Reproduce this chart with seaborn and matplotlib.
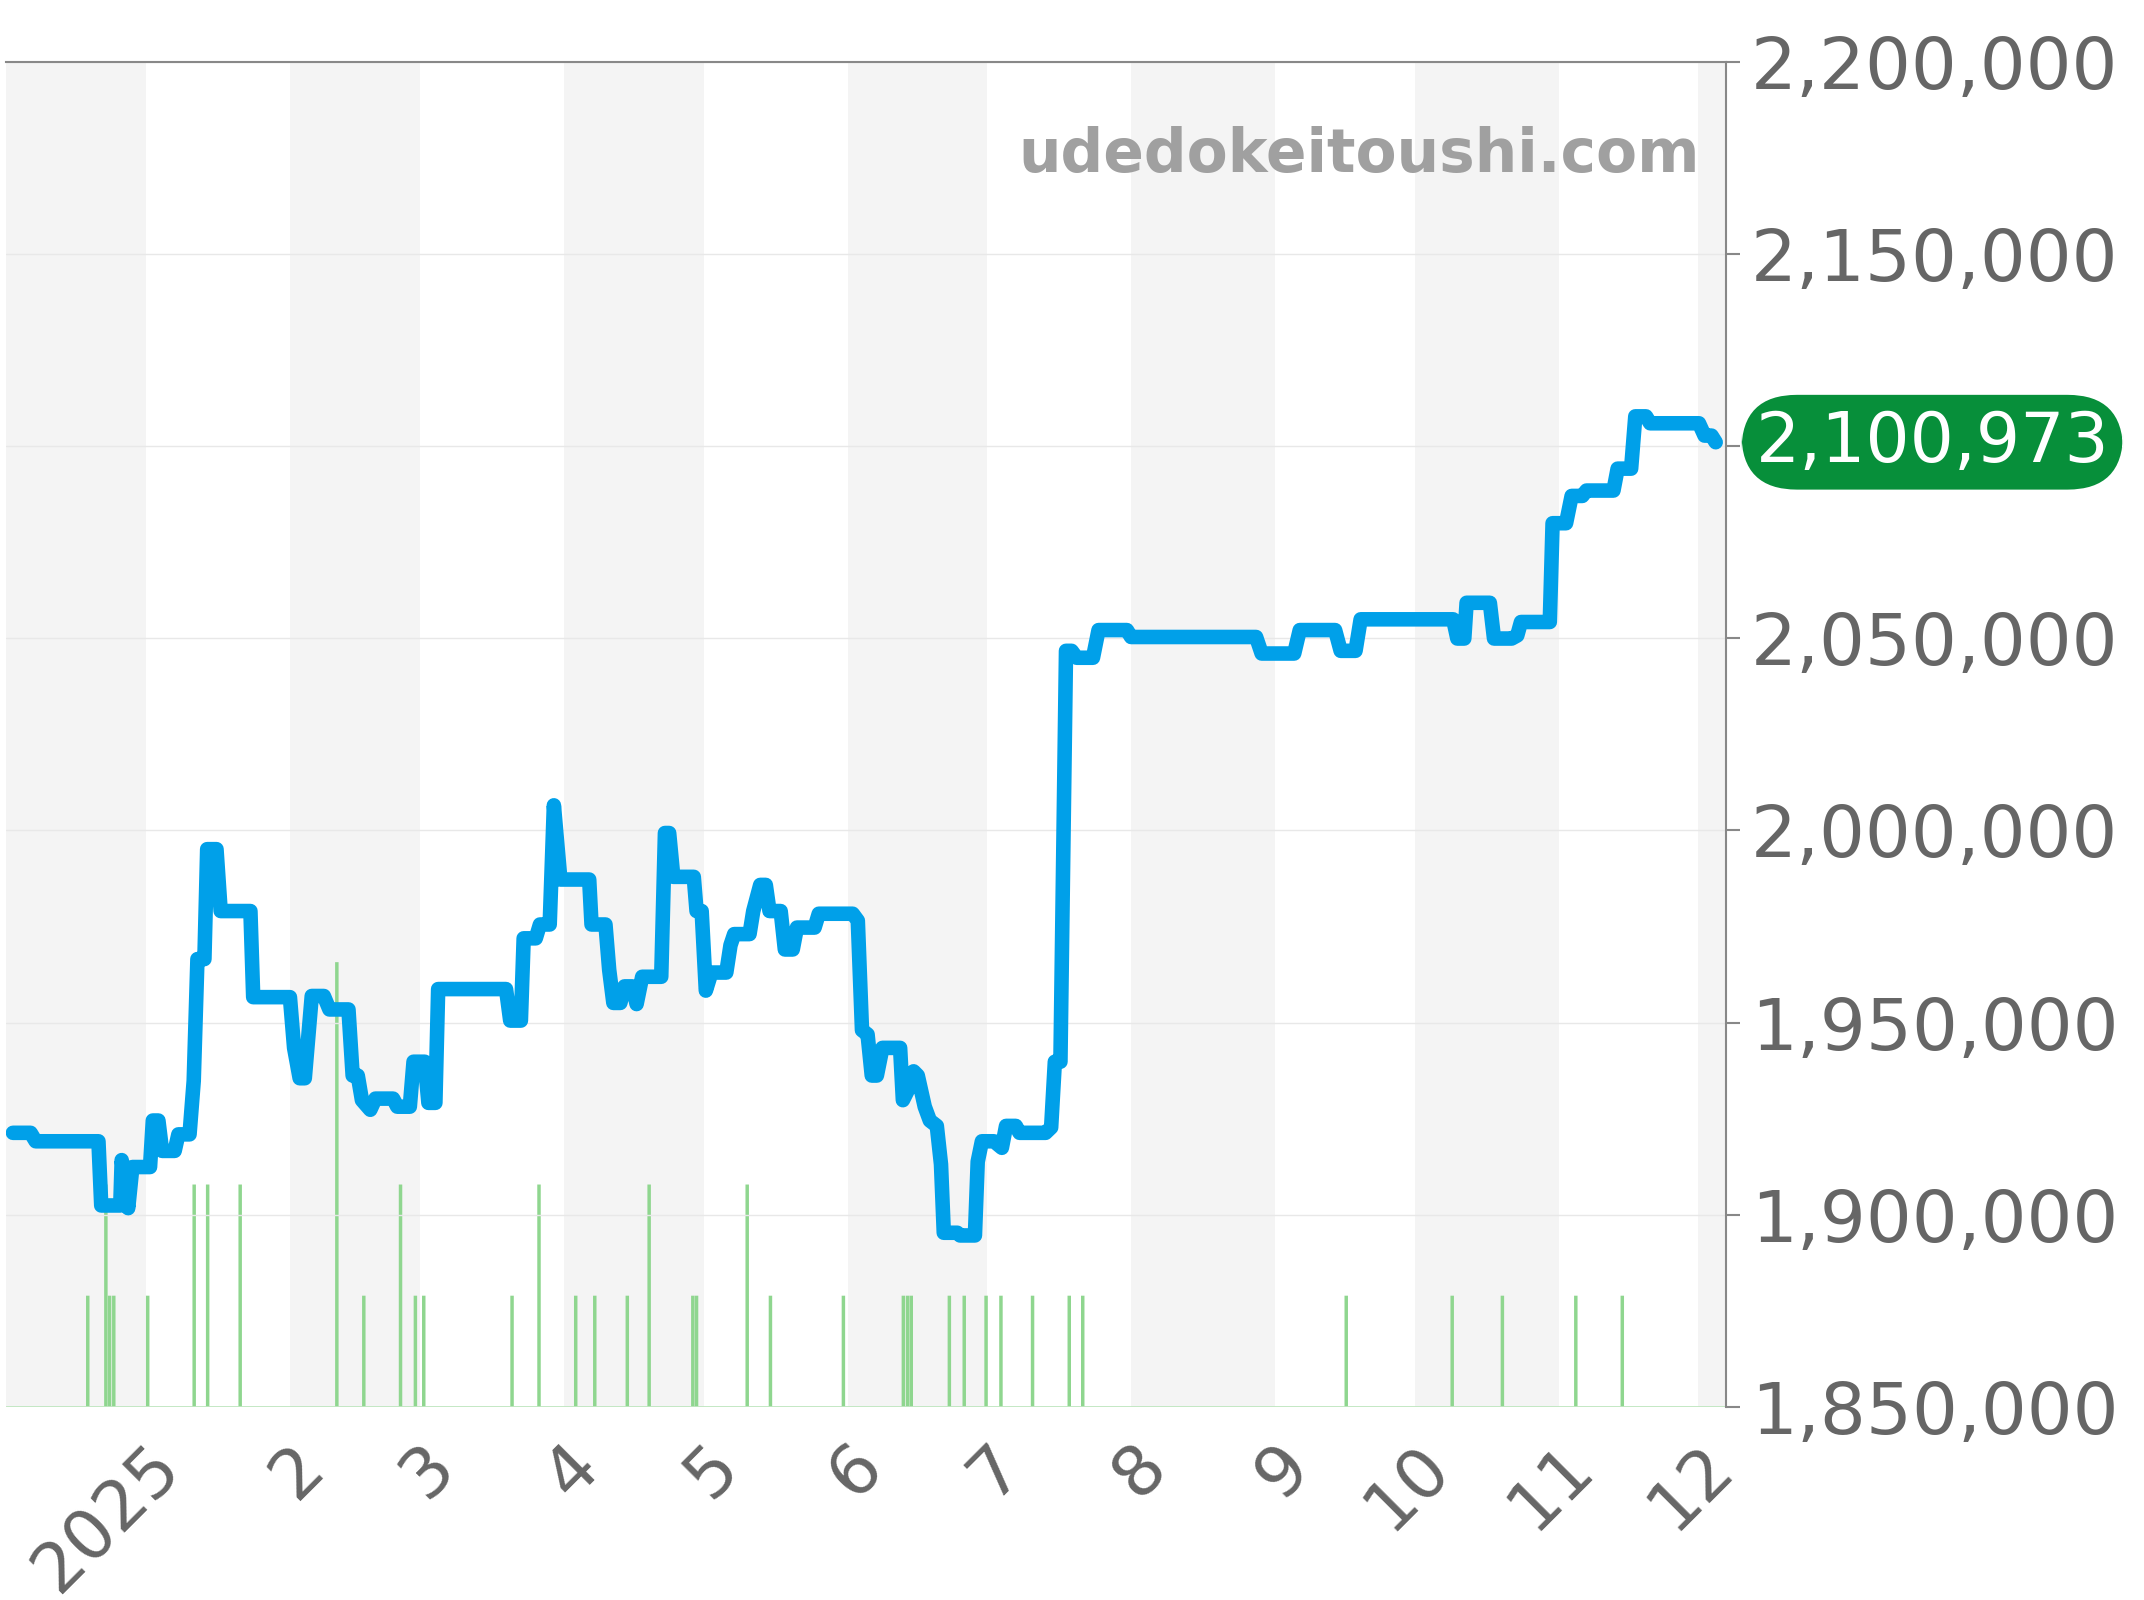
import matplotlib
matplotlib.use('Agg')
import numpy as np
import pandas as pd
import matplotlib.pyplot as plt
import seaborn as sns

# price line: days from 2025-01-01, price in thousands of yen
price_days = [-29.8, -26.0, -24.9, -11.4, -10.8, -6.7, -6.4, -5.0, -4.1, -0.3, 0.3, 1.5, 2.3, 5.0, 5.8, 8.2,
              9.1, 9.9, 11.4, 12.0, 14.0, 14.9, 21.3, 21.9, 29.8, 30.7, 31.9, 33.0, 34.5, 37.1, 38.3, 42.4,
              43.3, 44.4, 45.3, 47.1, 48.2, 52.0, 52.9, 55.6, 56.4, 58.8, 59.6, 61.1, 61.7, 76.3, 77.2, 79.5,
              80.1, 82.7, 83.6, 85.7, 86.6, 88.0, 94.2, 94.7, 97.7, 98.5, 99.4, 100.9, 101.8, 103.5, 104.4,
              105.6, 109.7, 110.5, 111.4, 112.3, 116.7, 117.3, 118.4, 119.3, 120.5, 123.7, 124.6, 125.4,
              128.7, 129.5, 131.0, 132.2, 133.0, 135.4, 136.3, 138.0, 138.9, 142.7, 143.6, 150.9, 152.0,
              152.9, 154.1, 155.0, 156.1, 157.3, 161.1, 161.7, 162.9, 164.0, 164.9, 166.4, 167.5, 169.0,
              169.9, 170.5, 173.4, 174.0, 177.2, 177.8, 178.7, 181.3, 183.0, 183.9, 186.0, 186.8, 192.4,
              193.6, 194.4, 195.6, 196.8, 198.0, 199.1, 202.6, 203.8, 209.9, 210.8, 237.7, 238.9, 245.9,
              247.1, 254.7, 255.9, 259.1, 260.2, 280.1, 281.0, 282.5, 283.0, 288.0, 288.9, 292.7, 293.9,
              294.7, 300.9, 301.5, 304.4, 305.6, 307.9, 308.8, 314.6, 315.5, 318.4, 319.3, 321.6, 322.5,
              333.0, 334.2, 335.7, 336.6]
price_vals = [1921.3, 1921.3, 1919.1, 1919.1, 1902.4, 1902.4, 1914.2, 1901.7, 1912.4, 1912.4, 1924.5, 1924.5,
              1916.6, 1916.6, 1920.9, 1920.9, 1934.8, 1966.5, 1966.5, 1995.1, 1995.1, 1979.0, 1979.0,
              1956.6, 1956.6, 1943.4, 1935.5, 1935.5, 1956.9, 1956.9, 1953.4, 1953.4, 1936.2, 1936.2,
              1929.8, 1927.3, 1930.2, 1930.2, 1928.1, 1928.1, 1939.8, 1939.8, 1929.1, 1929.1, 1958.7,
              1958.7, 1950.5, 1950.5, 1971.9, 1971.9, 1975.5, 1975.5, 2006.5, 1987.2, 1987.2, 1975.5,
              1975.5, 1963.7, 1955.1, 1955.1, 1959.4, 1959.4, 1954.8, 1961.9, 1961.9, 1999.3, 1999.3,
              1987.9, 1987.9, 1979.0, 1979.0, 1958.3, 1963.0, 1963.0, 1970.1, 1973.0, 1973.0, 1979.0,
              1985.8, 1985.8, 1979.0, 1979.0, 1969.0, 1969.0, 1974.7, 1974.7, 1978.3, 1978.3, 1976.5,
              1948.0, 1946.9, 1936.2, 1936.2, 1943.4, 1943.4, 1929.8, 1932.7, 1937.3, 1936.2, 1928.1,
              1924.5, 1923.1, 1913.1, 1895.3, 1895.3, 1894.6, 1894.6, 1913.8, 1919.1, 1919.1, 1917.4,
              1923.1, 1923.1, 1921.3, 1921.3, 1922.7, 1939.8, 1939.8, 2046.7, 2046.7, 2044.9, 2044.9,
              2052.1, 2052.1, 2050.3, 2050.3, 2046.0, 2046.0, 2052.1, 2052.1, 2046.7, 2046.7, 2054.9,
              2054.9, 2049.9, 2049.9, 2059.2, 2059.2, 2049.9, 2049.9, 2050.7, 2054.2, 2054.2, 2079.9,
              2079.9, 2087.0, 2087.0, 2088.4, 2088.4, 2094.1, 2094.1, 2107.7, 2107.7, 2105.9, 2105.9,
              2102.7, 2102.7, 2100.973]

# sales count bars
sale_days = [-13.5, -9.6, -8.8, -7.9, -0.6, 9.4, 12.3, 19.3, 40.1, 45.9, 53.8, 57.0, 58.8, 77.8, 83.6, 91.5,
             95.6, 102.6, 107.3, 116.7, 117.5, 128.4, 133.4, 149.1, 162.0, 162.9, 163.7, 171.9, 175.1,
             179.8, 183.0, 189.8, 197.7, 200.6, 257.3, 280.1, 290.9, 306.7, 316.7]
sale_counts = [1, 2, 1, 1, 1, 2, 2, 2, 4, 1, 2, 1, 1, 1, 2, 1, 1, 1, 2, 1, 1, 2, 1, 1, 1, 1, 1, 1, 1, 1, 1,
               1, 1, 1, 1, 1, 1, 1, 1]

month_labels = ['2025', '2', '3', '4', '5', '6', '7', '8', '9', '10', '11', '12']
y_ticks = [1850000, 1900000, 1950000, 2000000, 2050000, 2100000, 2150000, 2200000]
last_price = 2100973

base = pd.Timestamp('2025-01-01')
df = pd.DataFrame({'date': [base + pd.Timedelta(days=d + 1.2) for d in price_days],
                   'price': np.array(price_vals) * 1000})
sales = pd.DataFrame({'date': [base + pd.Timedelta(days=d + 1.0) for d in sale_days], 'n': sale_counts})

sns.set_style('white')
fig = plt.figure(figsize=(21.44, 16), dpi=100)
ax = fig.add_axes([0.003, 0.1207, 0.802, 0.8408])
x0, x1 = pd.Timestamp('2024-12-02'), pd.Timestamp('2025-12-07')

ax2 = ax.twinx()
ax2.set_zorder(0)
ax.set_zorder(1)
ax.patch.set_visible(False)

# alternating month shading (on the back axes so the sales bars show over it)
starts = [pd.Timestamp('2024-12-01')] + [pd.Timestamp(2025, m, 1) for m in range(1, 13)] + [pd.Timestamp('2026-01-01')]
for i in range(len(starts) - 1):
    if i % 2 == 0:
        ax2.axvspan(starts[i], starts[i + 1], color='#f4f4f4', lw=0, zorder=0)

ax2.vlines(sales['date'], 0, sales['n'], color='#8fd68f', lw=2.5, snap=False, zorder=2)
ax2.set_ylim(0, 12.1)
ax2.set_xlim(x0, x1)
ax2.set_yticks([])
for s in ax2.spines.values():
    s.set_visible(False)

sns.lineplot(data=df, x='date', y='price', ax=ax, color='#00a0e9', lw=10.5, solid_joinstyle='round')
ax.set_xlim(x0, x1)
ax.set_ylim(1850000, 2200000)
ax.set_xlabel('')
ax.set_ylabel('')
ax.yaxis.tick_right()
ax.set_yticks(y_ticks)
# the 2,100,000 label sits under the current-price badge
ax.set_yticklabels(['' if v == 2100000 else f'{v:,}' for v in y_ticks], fontsize=52, color='#666666')
ax.set_xticks([pd.Timestamp(2025, m, 1) for m in range(1, 13)])
ax.set_xticklabels(month_labels, fontsize=50, color='#666666', rotation=45, ha='right', rotation_mode='anchor')
ax.tick_params(axis='both', length=10, width=1.5, color='#888888', direction='out', pad=8)
ax.grid(axis='y', color='#e8e8e8', lw=1)
for k in ['left', 'bottom']:
    ax.spines[k].set_visible(False)
for k in ['top', 'right']:
    ax.spines[k].set_color('#888888')
    ax.spines[k].set_linewidth(1.5)
ax.axhline(1850000, color='#bfe6bf', lw=2, zorder=1)

ax.text(0.985, 0.93, 'udedokeitoushi.com', transform=ax.transAxes, ha='right', va='center',
        fontsize=43, fontweight='bold', color='#a0a0a0')
ax.text(1.12, last_price, f'{last_price:,}', transform=ax.get_yaxis_transform(), ha='center', va='center',
        fontsize=50, color='white', clip_on=False,
        bbox=dict(boxstyle='round,pad=0.2,rounding_size=0.8', fc='#078f3a', ec='none'))

fig.savefig('out.png', dpi=100)
